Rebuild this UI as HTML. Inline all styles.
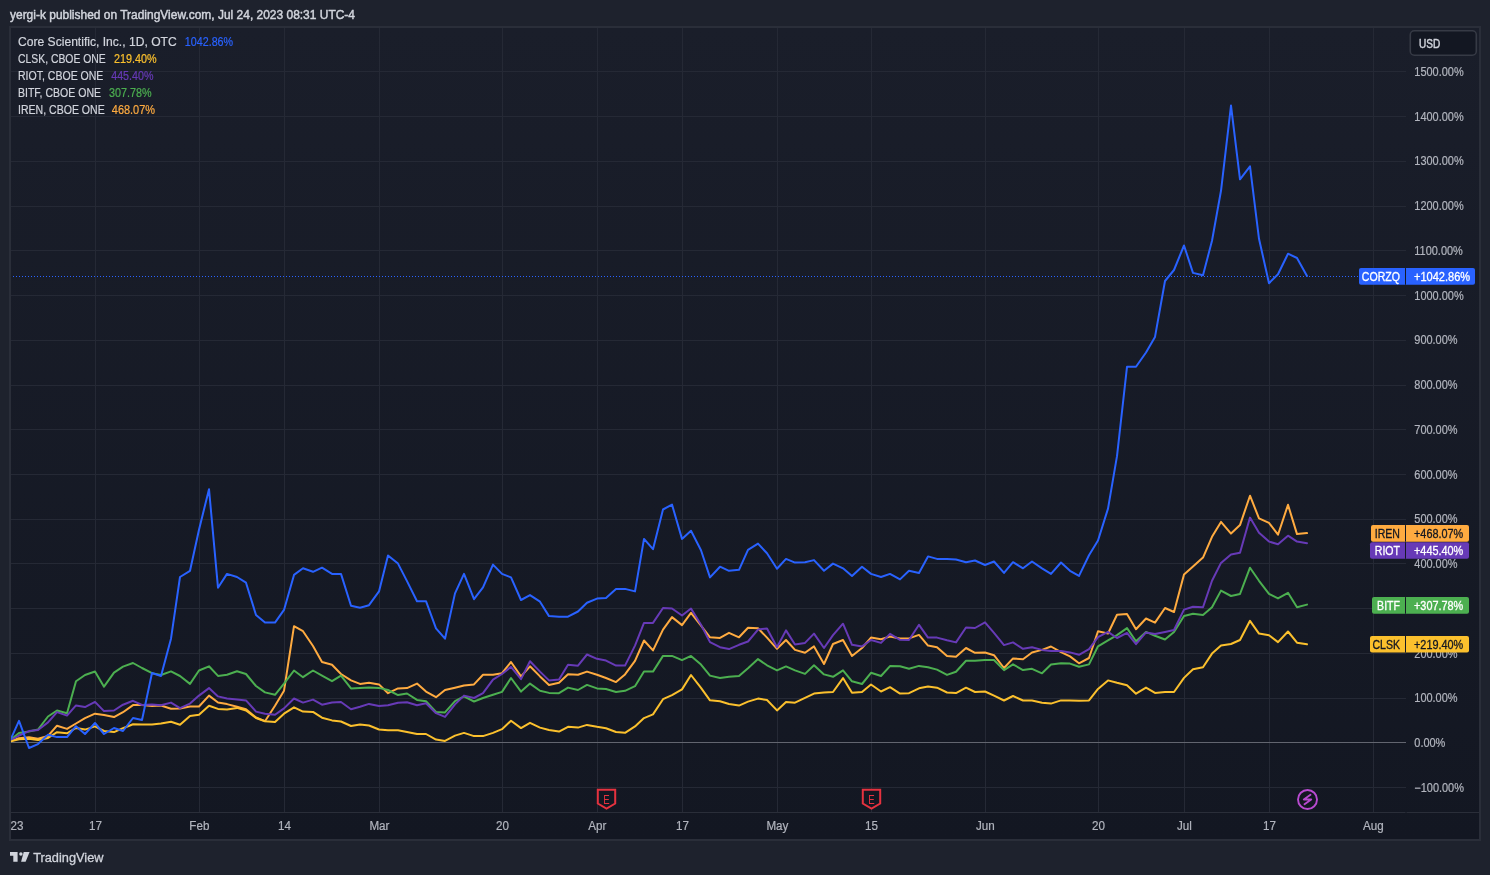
<!DOCTYPE html>
<html><head><meta charset="utf-8"><title>CORZQ vs CLSK, RIOT, BITF, IREN — TradingView</title>
<style>
html,body{margin:0;padding:0;background:#1e222d;width:1490px;height:875px;overflow:hidden;}
svg{display:block;font-family:"Liberation Sans", "DejaVu Sans", sans-serif;}
</style></head><body>
<svg width="1490" height="875" viewBox="0 0 1490 875">
<defs>
<linearGradient id="bg" x1="0" y1="0" x2="0" y2="1">
<stop offset="0" stop-color="#1a1e2a"/><stop offset="1" stop-color="#131722"/>
</linearGradient>
<clipPath id="plot"><rect x="11" y="28" width="1395" height="784"/></clipPath>
<clipPath id="tax"><rect x="11" y="813" width="1467" height="26"/></clipPath>
</defs>
<rect x="0" y="0" width="1490" height="875" fill="#1e222d"/>

<text x="10.00" y="19.00" font-size="12.2" fill="#d1d4dc" textLength="345.00" lengthAdjust="spacingAndGlyphs" stroke="#d1d4dc" stroke-width="0.45">yergi-k published on TradingView.com, Jul 24, 2023 08:31 UTC-4</text>
<rect x="10" y="27" width="1470" height="813" fill="url(#bg)" stroke="#2a2e39" stroke-width="2"/>
<path d="M95.5 28V812 M199.5 28V812 M284.5 28V812 M379.5 28V812 M502.5 28V812 M597.5 28V812 M682.5 28V812 M777.5 28V812 M871.5 28V812 M985.5 28V812 M1098.5 28V812 M1184.5 28V812 M1269.5 28V812 M1373.5 28V812 M11 787.5H1406 M11 698.5H1406 M11 653.5H1406 M11 608.5H1406 M11 563.5H1406 M11 519.5H1406 M11 474.5H1406 M11 429.5H1406 M11 385.5H1406 M11 340.5H1406 M11 295.5H1406 M11 250.5H1406 M11 206.5H1406 M11 161.5H1406 M11 116.5H1406 M11 71.5H1406" stroke="#252935" stroke-width="1" fill="none"/>
<path d="M11 742.5H1406" stroke="#62656f" stroke-width="1" fill="none"/>
<path d="M11 812.5H1405.5M1406.5 812.5H1479" stroke="#2a2e39" stroke-width="1"/>
<g clip-path="url(#tax)"><text x="10.40" y="830.20" font-size="12" fill="#b2b5be" text-anchor="middle" textLength="25.89" lengthAdjust="spacingAndGlyphs" stroke="#b2b5be" stroke-width="0.2">2023</text><text x="95.40" y="830.20" font-size="12" fill="#b2b5be" text-anchor="middle" textLength="12.95" lengthAdjust="spacingAndGlyphs" stroke="#b2b5be" stroke-width="0.2">17</text><text x="199.40" y="830.20" font-size="12" fill="#b2b5be" text-anchor="middle" textLength="20.06" lengthAdjust="spacingAndGlyphs" stroke="#b2b5be" stroke-width="0.2">Feb</text><text x="284.40" y="830.20" font-size="12" fill="#b2b5be" text-anchor="middle" textLength="12.95" lengthAdjust="spacingAndGlyphs" stroke="#b2b5be" stroke-width="0.2">14</text><text x="379.40" y="830.20" font-size="12" fill="#b2b5be" text-anchor="middle" textLength="20.05" lengthAdjust="spacingAndGlyphs" stroke="#b2b5be" stroke-width="0.2">Mar</text><text x="502.40" y="830.20" font-size="12" fill="#b2b5be" text-anchor="middle" textLength="12.95" lengthAdjust="spacingAndGlyphs" stroke="#b2b5be" stroke-width="0.2">20</text><text x="597.40" y="830.20" font-size="12" fill="#b2b5be" text-anchor="middle" textLength="18.11" lengthAdjust="spacingAndGlyphs" stroke="#b2b5be" stroke-width="0.2">Apr</text><text x="682.40" y="830.20" font-size="12" fill="#b2b5be" text-anchor="middle" textLength="12.95" lengthAdjust="spacingAndGlyphs" stroke="#b2b5be" stroke-width="0.2">17</text><text x="777.40" y="830.20" font-size="12" fill="#b2b5be" text-anchor="middle" textLength="21.99" lengthAdjust="spacingAndGlyphs" stroke="#b2b5be" stroke-width="0.2">May</text><text x="871.40" y="830.20" font-size="12" fill="#b2b5be" text-anchor="middle" textLength="12.95" lengthAdjust="spacingAndGlyphs" stroke="#b2b5be" stroke-width="0.2">15</text><text x="985.40" y="830.20" font-size="12" fill="#b2b5be" text-anchor="middle" textLength="18.77" lengthAdjust="spacingAndGlyphs" stroke="#b2b5be" stroke-width="0.2">Jun</text><text x="1098.40" y="830.20" font-size="12" fill="#b2b5be" text-anchor="middle" textLength="12.95" lengthAdjust="spacingAndGlyphs" stroke="#b2b5be" stroke-width="0.2">20</text><text x="1184.40" y="830.20" font-size="12" fill="#b2b5be" text-anchor="middle" textLength="14.88" lengthAdjust="spacingAndGlyphs" stroke="#b2b5be" stroke-width="0.2">Jul</text><text x="1269.40" y="830.20" font-size="12" fill="#b2b5be" text-anchor="middle" textLength="12.95" lengthAdjust="spacingAndGlyphs" stroke="#b2b5be" stroke-width="0.2">17</text><text x="1373.40" y="830.20" font-size="12" fill="#b2b5be" text-anchor="middle" textLength="20.71" lengthAdjust="spacingAndGlyphs" stroke="#b2b5be" stroke-width="0.2">Aug</text></g>
<g><text x="1414.30" y="792.00" font-size="12" fill="#b2b5be" textLength="49.65" lengthAdjust="spacingAndGlyphs" stroke="#b2b5be" stroke-width="0.2">−100.00%</text><text x="1414.30" y="747.00" font-size="12" fill="#b2b5be" textLength="31.06" lengthAdjust="spacingAndGlyphs" stroke="#b2b5be" stroke-width="0.2">0.00%</text><text x="1414.30" y="702.00" font-size="12" fill="#b2b5be" textLength="43.25" lengthAdjust="spacingAndGlyphs" stroke="#b2b5be" stroke-width="0.2">100.00%</text><text x="1414.30" y="658.00" font-size="12" fill="#b2b5be" textLength="43.25" lengthAdjust="spacingAndGlyphs" stroke="#b2b5be" stroke-width="0.2">200.00%</text><text x="1414.30" y="613.00" font-size="12" fill="#b2b5be" textLength="43.25" lengthAdjust="spacingAndGlyphs" stroke="#b2b5be" stroke-width="0.2">300.00%</text><text x="1414.30" y="568.00" font-size="12" fill="#b2b5be" textLength="43.25" lengthAdjust="spacingAndGlyphs" stroke="#b2b5be" stroke-width="0.2">400.00%</text><text x="1414.30" y="523.00" font-size="12" fill="#b2b5be" textLength="43.25" lengthAdjust="spacingAndGlyphs" stroke="#b2b5be" stroke-width="0.2">500.00%</text><text x="1414.30" y="479.00" font-size="12" fill="#b2b5be" textLength="43.25" lengthAdjust="spacingAndGlyphs" stroke="#b2b5be" stroke-width="0.2">600.00%</text><text x="1414.30" y="434.00" font-size="12" fill="#b2b5be" textLength="43.25" lengthAdjust="spacingAndGlyphs" stroke="#b2b5be" stroke-width="0.2">700.00%</text><text x="1414.30" y="389.00" font-size="12" fill="#b2b5be" textLength="43.25" lengthAdjust="spacingAndGlyphs" stroke="#b2b5be" stroke-width="0.2">800.00%</text><text x="1414.30" y="344.00" font-size="12" fill="#b2b5be" textLength="43.25" lengthAdjust="spacingAndGlyphs" stroke="#b2b5be" stroke-width="0.2">900.00%</text><text x="1414.30" y="300.00" font-size="12" fill="#b2b5be" textLength="49.34" lengthAdjust="spacingAndGlyphs" stroke="#b2b5be" stroke-width="0.2">1000.00%</text><text x="1414.30" y="255.00" font-size="12" fill="#b2b5be" textLength="48.53" lengthAdjust="spacingAndGlyphs" stroke="#b2b5be" stroke-width="0.2">1100.00%</text><text x="1414.30" y="210.00" font-size="12" fill="#b2b5be" textLength="49.34" lengthAdjust="spacingAndGlyphs" stroke="#b2b5be" stroke-width="0.2">1200.00%</text><text x="1414.30" y="165.00" font-size="12" fill="#b2b5be" textLength="49.34" lengthAdjust="spacingAndGlyphs" stroke="#b2b5be" stroke-width="0.2">1300.00%</text><text x="1414.30" y="121.00" font-size="12" fill="#b2b5be" textLength="49.34" lengthAdjust="spacingAndGlyphs" stroke="#b2b5be" stroke-width="0.2">1400.00%</text><text x="1414.30" y="76.00" font-size="12" fill="#b2b5be" textLength="49.34" lengthAdjust="spacingAndGlyphs" stroke="#b2b5be" stroke-width="0.2">1500.00%</text></g>
<rect x="1410.3" y="30.8" width="66" height="24.4" rx="4" fill="#131722" stroke="#363a45" stroke-width="1.6"/>
<text x="1418.90" y="48.00" font-size="12" fill="#d1d4dc" textLength="21.28" lengthAdjust="spacingAndGlyphs" stroke="#d1d4dc" stroke-width="0.45">USD</text>
<text x="18" y="46" font-size="12" fill="#d1d4dc" stroke="#d1d4dc" stroke-width="0.2" textLength="158.7" lengthAdjust="spacingAndGlyphs">Core Scientific, Inc., 1D, OTC</text>
<text x="184.8" y="46" font-size="12" fill="#2962ff" stroke="#2962ff" stroke-width="0.2" textLength="48.3" lengthAdjust="spacingAndGlyphs">1042.86%</text>
<text x="18" y="63" font-size="12" fill="#d1d4dc" stroke="#d1d4dc" stroke-width="0.2" textLength="87.8" lengthAdjust="spacingAndGlyphs">CLSK, CBOE ONE</text>
<text x="113.9" y="63" font-size="12" fill="#fbc02d" stroke="#fbc02d" stroke-width="0.2" textLength="42.7" lengthAdjust="spacingAndGlyphs">219.40%</text>
<text x="18" y="80" font-size="12" fill="#d1d4dc" stroke="#d1d4dc" stroke-width="0.2" textLength="85.4" lengthAdjust="spacingAndGlyphs">RIOT, CBOE ONE</text>
<text x="111.2" y="80" font-size="12" fill="#673ab7" stroke="#673ab7" stroke-width="0.2" textLength="42.2" lengthAdjust="spacingAndGlyphs">445.40%</text>
<text x="18" y="97" font-size="12" fill="#d1d4dc" stroke="#d1d4dc" stroke-width="0.2" textLength="83.0" lengthAdjust="spacingAndGlyphs">BITF, CBOE ONE</text>
<text x="109.1" y="97" font-size="12" fill="#4caf50" stroke="#4caf50" stroke-width="0.2" textLength="42.6" lengthAdjust="spacingAndGlyphs">307.78%</text>
<text x="18" y="114" font-size="12" fill="#d1d4dc" stroke="#d1d4dc" stroke-width="0.2" textLength="86.7" lengthAdjust="spacingAndGlyphs">IREN, CBOE ONE</text>
<text x="111.8" y="114" font-size="12" fill="#ffab40" stroke="#ffab40" stroke-width="0.2" textLength="43.2" lengthAdjust="spacingAndGlyphs">468.07%</text>
<g fill="#d1d4dc"><path d="M10 852h7.6v9.7h-4.3v-6h-3.3z"/><circle cx="20.9" cy="854.1" r="1.75"/><path d="M23.7 852h5.9l-4 9.7h-4.5z"/></g>
<text x="33.20" y="861.70" font-size="13" fill="#d1d4dc" textLength="70.30" lengthAdjust="spacingAndGlyphs" stroke="#d1d4dc" stroke-width="0.3">TradingView</text>
<g clip-path="url(#plot)" fill="none" stroke-linejoin="round" stroke-linecap="round"><polyline points="10,741.2 19,738.2 29,737.3 38,738.7 48,736.0 57,725.7 67,728.9 76,723.5 85,718.1 95,713.7 104,714.9 114,717.1 123,712.2 133,705.1 142,704.9 152,706.1 161,705.5 171,708.7 180,708.6 190,706.5 199,706.5 209,695.6 218,702.5 227,704.1 237,706.8 246,709.2 256,717.5 265,721.2 275,705.8 284,690.8 294,626.2 303,631.2 313,646.0 322,662.0 332,664.7 341,674.0 351,680.4 360,683.9 369,682.8 379,684.4 388,693.2 398,688.4 407,688.1 417,683.6 426,691.6 436,697.2 445,690.0 455,687.7 464,685.5 474,684.4 483,674.8 493,674.8 502,673.2 511,662.0 521,676.4 530,666.3 540,676.4 549,684.9 559,682.8 568,674.3 578,674.8 587,671.6 597,674.8 606,678.0 616,682.1 625,674.4 635,660.8 644,640.5 653,650.4 663,629.6 672,617.1 682,625.1 691,612.8 701,625.6 710,637.3 720,637.9 729,632.8 739,637.3 748,627.7 758,628.3 767,637.6 777,648.8 786,640.0 795,649.9 805,652.8 814,646.4 824,664.0 833,644.0 843,640.0 852,656.0 862,648.0 871,637.6 881,639.2 890,636.5 900,638.4 909,638.4 919,634.9 928,645.6 937,647.2 947,656.0 956,656.8 966,648.0 975,652.8 985,652.5 994,655.2 1004,668.0 1013,658.4 1023,659.2 1032,652.5 1042,649.9 1051,646.5 1061,652.2 1070,656.4 1079,663.3 1089,658.0 1098,631.3 1108,633.5 1117,614.8 1127,614.0 1136,629.2 1146,618.5 1155,622.6 1165,608.0 1174,612.0 1184,574.4 1193,566.4 1203,557.6 1212,536.8 1221,521.9 1231,533.6 1240,525.1 1250,495.7 1259,518.4 1269,522.9 1278,534.7 1288,504.8 1297,534.1 1307,533.1" stroke="#ffab40" stroke-width="2"/><polyline points="10,740.3 19,733.0 29,731.4 38,729.5 48,716.5 57,710.5 67,713.2 76,681.2 85,675.0 95,671.5 104,686.7 114,672.6 123,666.6 133,663.0 142,668.0 152,673.2 161,675.0 171,671.4 180,676.0 190,683.9 199,670.5 209,666.3 218,675.9 227,674.8 237,671.3 246,674.0 256,686.0 265,692.4 275,694.8 284,683.6 294,670.5 303,677.2 313,670.5 322,675.6 332,681.2 341,675.6 351,688.4 360,687.9 369,687.6 379,687.9 388,690.0 398,695.1 407,693.5 417,699.9 426,701.2 436,711.9 445,712.4 455,701.2 464,696.4 474,701.5 483,698.0 493,694.8 502,691.9 511,678.0 521,691.6 530,683.6 540,690.8 549,692.9 559,693.2 568,687.6 578,690.0 587,684.9 597,688.4 606,689.0 616,692.0 625,690.8 635,686.2 644,671.6 653,671.6 663,655.9 672,655.9 682,660.2 691,655.9 701,664.6 710,675.6 720,678.0 729,676.8 739,676.0 748,668.2 758,659.1 767,665.3 777,670.4 786,666.4 795,670.4 805,673.9 814,665.3 824,674.4 833,676.8 843,670.4 852,681.3 862,684.0 871,672.8 881,676.0 890,666.1 900,666.2 909,668.8 919,665.9 928,667.2 937,669.6 947,674.9 956,671.7 966,660.8 975,660.8 985,660.0 994,660.0 1004,670.1 1013,664.3 1023,670.1 1032,668.8 1042,673.3 1051,664.5 1061,663.3 1070,663.6 1079,666.8 1089,664.4 1098,646.3 1108,640.4 1117,635.1 1127,628.1 1136,641.2 1146,631.9 1155,635.8 1165,639.5 1174,632.0 1184,616.0 1193,613.8 1203,615.0 1212,607.3 1221,590.6 1231,596.0 1240,594.0 1250,567.7 1259,580.8 1269,593.9 1278,598.4 1288,592.8 1297,607.2 1307,604.6" stroke="#4caf50" stroke-width="2"/><polyline points="10,740.9 19,735.5 29,731.1 38,730.0 48,722.4 57,712.1 67,715.6 76,705.4 85,707.1 95,701.9 104,711.1 114,710.5 123,704.7 133,700.8 142,705.0 152,704.5 161,705.3 171,702.6 180,708.1 190,703.6 199,695.6 209,688.1 218,696.4 227,698.5 237,699.6 246,700.4 256,711.6 265,713.7 275,714.8 284,708.4 294,698.5 303,702.6 313,699.6 322,704.7 332,702.5 341,702.0 351,709.2 360,706.8 369,703.9 379,706.0 388,705.2 398,702.8 407,702.3 417,705.2 426,703.3 436,713.2 445,716.9 455,704.4 464,695.6 474,698.0 483,693.2 493,679.6 502,674.0 511,666.8 521,679.1 530,661.2 540,671.6 549,680.4 559,679.6 568,664.7 578,665.7 587,654.5 597,658.8 606,660.6 616,665.6 625,665.6 635,645.6 644,622.9 653,622.9 663,608.0 672,608.5 682,615.5 691,608.5 701,624.8 710,642.1 720,647.2 729,649.1 739,644.8 748,641.5 758,629.6 767,628.5 777,647.2 786,630.4 795,644.5 805,642.9 814,633.6 824,648.0 833,635.2 843,623.7 852,644.8 862,646.4 871,640.0 881,642.9 890,633.9 900,639.8 909,640.0 919,624.8 928,637.6 937,637.6 947,640.3 956,642.4 966,627.5 975,628.0 985,622.4 994,632.8 1004,645.1 1013,642.4 1023,648.8 1032,647.2 1042,649.9 1051,651.0 1061,651.0 1070,652.4 1079,654.8 1089,649.2 1098,637.2 1108,631.9 1117,638.0 1127,632.9 1136,644.1 1146,632.4 1155,634.0 1165,632.0 1174,630.0 1184,609.6 1193,606.8 1203,607.3 1212,580.8 1221,562.9 1231,554.4 1240,552.8 1250,517.6 1259,532.8 1269,541.6 1278,544.3 1288,535.7 1297,541.6 1307,543.2" stroke="#673ab7" stroke-width="2"/><polyline points="10,741.4 19,739.3 29,738.7 38,740.1 48,738.0 57,732.2 67,733.3 76,727.9 85,729.6 95,726.4 104,731.0 114,732.1 123,728.2 133,724.2 142,724.6 152,724.6 161,723.6 171,721.8 180,724.8 190,715.9 199,714.8 209,705.7 218,708.9 227,709.5 237,707.9 246,710.5 256,718.0 265,721.2 275,722.0 284,713.7 294,707.3 303,711.6 313,711.9 322,717.7 332,720.4 341,721.5 351,726.0 360,724.4 369,725.5 379,729.5 388,730.3 398,730.3 407,731.9 417,734.0 426,734.0 436,739.6 445,740.9 455,735.6 464,732.9 474,736.1 483,736.1 493,732.9 502,729.2 511,720.7 521,728.1 530,722.8 540,727.6 549,730.0 559,731.6 568,726.8 578,727.6 587,724.9 597,726.8 606,728.3 616,732.0 625,732.8 635,726.4 644,718.1 653,714.4 663,699.2 672,695.1 682,689.4 691,675.0 701,687.8 710,700.3 720,701.2 729,704.0 739,705.6 748,701.6 758,698.6 767,700.0 777,710.4 786,702.1 795,702.7 805,697.9 814,693.6 824,692.5 833,692.0 843,678.1 852,692.8 862,692.0 871,684.5 881,691.5 890,687.2 900,693.6 909,693.2 919,688.3 928,686.4 937,687.7 947,692.5 956,693.1 966,687.7 975,692.0 985,691.5 994,695.7 1004,700.5 1013,696.0 1023,700.5 1032,700.5 1042,702.7 1051,703.6 1061,700.4 1070,700.4 1079,700.7 1089,700.4 1098,688.9 1108,680.4 1117,682.8 1127,685.2 1136,693.7 1146,687.6 1155,692.9 1165,692.0 1174,692.0 1184,677.9 1193,669.3 1203,667.2 1212,653.6 1221,645.6 1231,644.0 1240,640.0 1250,620.8 1259,633.6 1269,635.2 1278,642.1 1288,631.5 1297,642.7 1307,644.3" stroke="#fbc02d" stroke-width="2"/><polyline points="10,740.9 19,720.8 29,748.0 38,744.1 48,734.7 57,737.1 67,737.1 76,726.2 85,734.0 95,723.0 104,734.0 114,728.0 123,731.0 133,718.0 142,720.0 152,673.0 161,676.0 171,638.7 180,577.0 190,570.8 199,529.7 209,489.2 218,587.7 227,573.9 237,577.0 246,582.7 256,615.0 265,622.6 275,622.6 284,609.9 294,574.9 303,568.3 313,571.8 322,567.7 332,573.9 341,573.9 351,605.8 360,607.8 369,605.2 379,591.4 388,555.4 398,563.6 407,581.1 417,601.2 426,601.2 436,628.4 445,638.7 455,593.4 464,573.9 474,599.2 483,587.3 493,564.6 502,573.9 511,577.4 521,600.0 530,595.1 540,601.7 549,616.1 559,616.7 568,616.7 578,611.5 587,602.7 597,598.6 606,598.0 616,588.9 625,588.9 635,591.4 644,538.9 653,549.2 663,509.5 672,504.6 682,538.9 691,530.7 701,550.2 710,577.4 720,566.7 729,570.8 739,569.8 748,549.8 758,543.6 767,553.3 777,568.7 786,558.9 795,562.6 805,562.2 814,560.1 824,570.8 833,563.6 843,568.3 852,575.9 862,566.7 871,573.9 881,577.0 890,573.9 900,579.4 909,570.8 919,572.9 928,556.4 937,558.9 947,558.9 956,559.5 966,562.2 975,560.5 985,565.0 994,561.5 1004,572.9 1013,562.2 1023,568.3 1032,561.5 1042,568.3 1051,573.9 1061,562.5 1070,570.8 1079,575.9 1089,555.3 1098,540.5 1108,508.6 1117,456.2 1127,366.8 1136,366.8 1146,352.5 1155,336.9 1165,281.0 1174,270.0 1184,245.5 1193,272.9 1203,275.3 1212,240.7 1221,190.8 1231,105.6 1240,179.3 1250,166.3 1259,238.8 1269,283.2 1278,274.3 1288,253.7 1297,258.0 1307,276.0" stroke="#2962ff" stroke-width="2"/></g>
<path d="M13 276.5H1359" stroke="#2962ff" stroke-width="1" stroke-dasharray="1 2" fill="none"/>
<path d="M597.8 789.8H615.2V803.5L606.5 808.6L597.8 803.5Z" fill="#131722" stroke="#e5323f" stroke-width="2" stroke-linejoin="miter"/><text x="606.50" y="804.20" font-size="12" fill="#e5323f" text-anchor="middle" textLength="6.40" lengthAdjust="spacingAndGlyphs">E</text>
<path d="M862.8 789.8H880.2V803.5L871.5 808.6L862.8 803.5Z" fill="#131722" stroke="#e5323f" stroke-width="2" stroke-linejoin="miter"/><text x="871.50" y="804.20" font-size="12" fill="#e5323f" text-anchor="middle" textLength="6.40" lengthAdjust="spacingAndGlyphs">E</text>
<circle cx="1307.5" cy="799.5" r="9.5" fill="#131722" stroke="#b84ad0" stroke-width="1.9"/>
<path d="M1310.5 794.8L1303.8 799.5H1311.2L1304.5 804.3" fill="none" stroke="#b84ad0" stroke-width="1.9" stroke-linejoin="round" stroke-linecap="round"/>
<rect x="1359" y="268.1" width="116" height="16.6" rx="2" fill="#2962ff"/><rect x="1405" y="268.1" width="1" height="16.6" fill="#141824"/><text x="1400.00" y="281.10" font-size="12" fill="#ffffff" text-anchor="end" textLength="38.13" lengthAdjust="spacingAndGlyphs" stroke="#ffffff" stroke-width="0.3">CORZQ</text><text x="1414.00" y="281.10" font-size="12" fill="#ffffff" textLength="56.17" lengthAdjust="spacingAndGlyphs" stroke="#ffffff" stroke-width="0.3">+1042.86%</text>
<rect x="1371" y="525.1" width="98" height="16.6" rx="2" fill="#ffab40"/><rect x="1405" y="525.1" width="1" height="16.6" fill="#141824"/><text x="1400.00" y="538.10" font-size="12" fill="#131722" text-anchor="end" textLength="25.23" lengthAdjust="spacingAndGlyphs" stroke="#131722" stroke-width="0.3">IREN</text><text x="1414.00" y="538.10" font-size="12" fill="#131722" textLength="49.21" lengthAdjust="spacingAndGlyphs" stroke="#131722" stroke-width="0.3">+468.07%</text>
<rect x="1370" y="542.2" width="99" height="16.6" rx="2" fill="#673ab7"/><rect x="1405" y="542.2" width="1" height="16.6" fill="#141824"/><text x="1400.00" y="555.20" font-size="12" fill="#ffffff" text-anchor="end" textLength="25.22" lengthAdjust="spacingAndGlyphs" stroke="#ffffff" stroke-width="0.3">RIOT</text><text x="1414.00" y="555.20" font-size="12" fill="#ffffff" textLength="49.21" lengthAdjust="spacingAndGlyphs" stroke="#ffffff" stroke-width="0.3">+445.40%</text>
<rect x="1372" y="597.1" width="97" height="16.6" rx="2" fill="#4caf50"/><rect x="1405" y="597.1" width="1" height="16.6" fill="#141824"/><text x="1400.00" y="610.10" font-size="12" fill="#ffffff" text-anchor="end" textLength="22.88" lengthAdjust="spacingAndGlyphs" stroke="#ffffff" stroke-width="0.3">BITF</text><text x="1414.00" y="610.10" font-size="12" fill="#ffffff" textLength="49.21" lengthAdjust="spacingAndGlyphs" stroke="#ffffff" stroke-width="0.3">+307.78%</text>
<rect x="1370" y="636" width="99" height="16.6" rx="2" fill="#fbc02d"/><rect x="1405" y="636" width="1" height="16.6" fill="#141824"/><text x="1400.00" y="649.00" font-size="12" fill="#131722" text-anchor="end" textLength="27.59" lengthAdjust="spacingAndGlyphs" stroke="#131722" stroke-width="0.3">CLSK</text><text x="1414.00" y="649.00" font-size="12" fill="#131722" textLength="49.21" lengthAdjust="spacingAndGlyphs" stroke="#131722" stroke-width="0.3">+219.40%</text>
</svg></body></html>
